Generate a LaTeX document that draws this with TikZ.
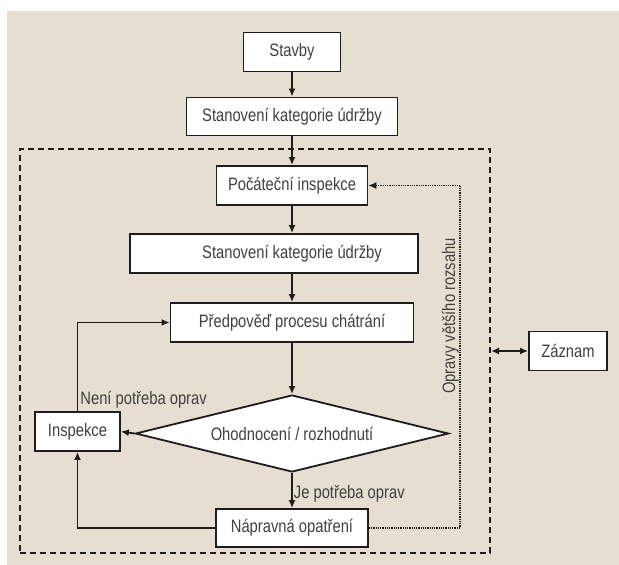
\documentclass[tikz,border=0pt]{standalone}
\usepackage{fontspec}
\setmainfont{Liberation Sans}[FakeStretch=0.82]
\usetikzlibrary{shapes.geometric,arrows.meta}

\definecolor{paper}{RGB}{230,223,209}
\definecolor{ink}{RGB}{30,28,28}

\begin{document}
\begin{tikzpicture}[x=1pt,y=-1pt,
    every node/.style={font=\fontsize{18}{20}\selectfont, text=black!75},
    box/.style={draw=ink, line width=1.8pt, fill=white, inner sep=0pt, minimum height=39pt},
    decision/.style={diamond, aspect=4, draw=ink, line width=1.8pt, fill=white, inner sep=0pt,
      minimum width=313pt, minimum height=77pt},
    frame/.style={draw=ink, line width=2pt, dash pattern=on 6pt off 4pt, inner sep=0pt},
    arr/.style={draw=ink, line width=1.8pt, -{Latex[length=8pt,width=7pt]}},
    dotarr/.style={draw=ink, line width=1.2pt, dash pattern=on 1pt off 0.8pt,
      -{Latex[length=8pt,width=7pt]}}]
  % Page and background
  \useasboundingbox (0,0) rectangle (619,565);
  \fill[paper] (7,11) rectangle (619,565);

  % Dashed process frame
  \node[frame, minimum width=470pt, minimum height=404pt] (frame) at (255,351) {};

  % Boxes
  \node[box, minimum width=97pt] (stavby) at (292,52) {Stavby};
  \node[box, minimum width=211pt, minimum height=38pt] (kat1) at (292,116.5) {Stanovení kategorie údržby};
  \node[box, minimum width=151pt] (pocatek) at (292,185.5) {Počáteční inspekce};
  \node[box, minimum width=288pt] (kat2) at (274,253.5) {\hspace*{36pt}Stanovení kategorie údržby};
  \node[box, minimum width=243pt] (predpoved) at (292,322.5) {Předpověď procesu chátrání};
  \node[decision] (hodnoceni) at (292,433.5) {Ohodnocení / rozhodnutí};
  \node[box, minimum width=85pt] (inspekce) at (77.5,431.5) {Inspekce};
  \node[box, minimum width=152pt, minimum height=38pt] (naprava) at (292,528) {Nápravná opatření};
  \node[box, minimum width=78pt] (zaznam) at (568,351) {Záznam};

  % Main flow
  \draw[arr] (stavby) -- (kat1);
  \draw[arr] (kat1) -- (pocatek);
  \draw[arr] (pocatek.south) -- (pocatek.south |- kat2.north);
  \draw[arr] (kat2.south -| predpoved.north) -- (predpoved.north);
  \draw[arr] (predpoved.south) -- (hodnoceni.north);
  \draw[arr] (hodnoceni.west) -- (inspekce.east);
  \draw[arr] (hodnoceni.south) -- (naprava.north)
    node[pos=0.6, anchor=west, inner sep=1pt] {Je potřeba oprav};

  % Loops back
  \draw[arr] (inspekce.north) node[anchor=south west, inner sep=2pt] {Není potřeba oprav}
    |- (predpoved.west);
  \draw[arr] (naprava.west) -| (inspekce.south);
  \coordinate (ohyb) at (460,528);
  \draw[dotarr] (naprava.east) -- (ohyb) |- (pocatek.east);
  \node[rotate=90, anchor=south, inner sep=1pt] (velke) at (460,316) {Opravy většího rozsahu};

  % Record
  \draw[arr, {Latex[length=8pt,width=7pt]}-{Latex[length=8pt,width=7pt]}] (frame.east) -- (zaznam.west);
\end{tikzpicture}
\end{document}
